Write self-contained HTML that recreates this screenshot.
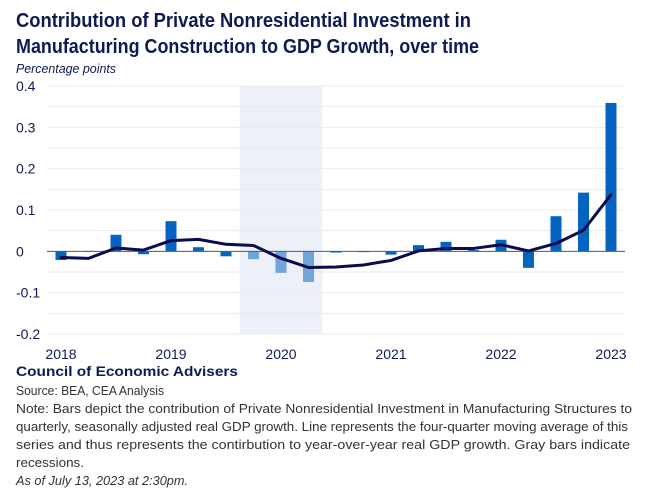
<!DOCTYPE html>
<html><head><meta charset="utf-8"><style>
body{margin:0;background:#fff;}
svg{display:block;font-family:"Liberation Sans",sans-serif;}
</style></head><body>
<svg id="chart" width="653" height="489" viewBox="0 0 653 489">
<text x="16" y="27" font-size="20" font-weight="bold" fill="#0f1a55" textLength="455" lengthAdjust="spacingAndGlyphs">Contribution of Private Nonresidential Investment in</text>
<text x="16" y="53" font-size="20" font-weight="bold" fill="#0f1a55" textLength="463" lengthAdjust="spacingAndGlyphs">Manufacturing Construction to GDP Growth, over time</text>
<text x="16" y="73" font-size="13" font-style="italic" fill="#0f1a55" textLength="100" lengthAdjust="spacingAndGlyphs">Percentage points</text>
<g id="plot"></g>
<text x="16" y="376" font-size="14" font-weight="bold" fill="#0f1a55" textLength="222" lengthAdjust="spacingAndGlyphs">Council of Economic Advisers</text>
<g font-size="13" fill="#333">
<text x="16" y="395" textLength="148" lengthAdjust="spacingAndGlyphs">Source: BEA, CEA Analysis</text>
<text x="16" y="413" textLength="616" lengthAdjust="spacingAndGlyphs">Note: Bars depict the contribution of Private Nonresidential Investment in Manufacturing Structures to</text>
<text x="16" y="431" textLength="612" lengthAdjust="spacingAndGlyphs">quarterly, seasonally adjusted real GDP growth. Line represents the four-quarter moving average of this</text>
<text x="16" y="449" textLength="614" lengthAdjust="spacingAndGlyphs">series and thus represents the contirbution to year-over-year real GDP growth. Gray bars indicate</text>
<text x="16" y="467" textLength="68" lengthAdjust="spacingAndGlyphs">recessions.</text>
<text x="16" y="485" font-style="italic" textLength="172" lengthAdjust="spacingAndGlyphs">As of July 13, 2023 at 2:30pm.</text>
</g>
</svg>
<script>
const quarters=["2018Q1","2018Q2","2018Q3","2018Q4","2019Q1","2019Q2","2019Q3","2019Q4","2020Q1","2020Q2","2020Q3","2020Q4","2021Q1","2021Q2","2021Q3","2021Q4","2022Q1","2022Q2","2022Q3","2022Q4","2023Q1"];
const barValues=[-0.021,0.001,0.040,-0.007,0.073,0.010,-0.012,-0.019,-0.052,-0.074,-0.003,0.0,-0.008,0.015,0.023,0.003,0.028,-0.040,0.085,0.142,0.359];
const lineValues=[-0.015,-0.017,0.008,0.003,0.026,0.029,0.017,0.014,-0.017,-0.039,-0.038,-0.033,-0.022,0.001,0.007,0.007,0.016,0.001,0.019,0.051,0.137];
const recessionQuarters=["2019Q4","2020Q1","2020Q2"];
const yTicks=[0.4,0.3,0.2,0.1,0,-0.1,-0.2];
const yTickLabels=["0.4","0.3","0.2","0.1","0","-0.1","-0.2"];
const xLabels=["2018","2019","2020","2021","2022","2023"];
const xLabelQuarters=["2018Q1","2019Q1","2020Q1","2021Q1","2022Q1","2023Q1"];

const NS="http://www.w3.org/2000/svg";
const g=document.getElementById('plot');
const L=47,R=625,T=86,B=334,yMin=-0.2,yMax=0.4;
const x0=61,step=27.5;
const xScale=i=>x0+i*step;
const yScale=v=>B-(v-yMin)/(yMax-yMin)*(B-T);
function mk(tag,attrs){const e=document.createElementNS(NS,tag);for(const k in attrs)e.setAttribute(k,attrs[k]);g.appendChild(e);return e;}

// recession shading
const ri=recessionQuarters.map(q=>quarters.indexOf(q));
const rs=mk('rect',{x:xScale(Math.min(...ri))-step/2,y:T,width:(Math.max(...ri)-Math.min(...ri)+1)*step,height:B-T,fill:'#edf0f6'});



// gridlines every 0.05
for(let v=yMin;v<=yMax+1e-9;v+=0.05){
  const gl=mk('line',{x1:L,x2:R,y1:yScale(v),y2:yScale(v),stroke:'#e8eaf3','stroke-width':1});
  
  
}
yTicks.forEach((v,i)=>{
  const t=mk('text',{x:16,y:yScale(v)+5,'font-size':14,fill:'#0f1a55'});
  t.textContent=yTickLabels[i];
  
  
});
xLabels.forEach((lab,i)=>{
  const t=mk('text',{x:xScale(quarters.indexOf(xLabelQuarters[i])),y:359,'font-size':14,fill:'#0f1a55','text-anchor':'middle'});
  t.textContent=lab;
  
  
});
// bars
barValues.forEach((v,i)=>{
  const rec=recessionQuarters.includes(quarters[i]);
  const y1=yScale(Math.max(v,0)),y2=yScale(Math.min(v,0));
  const b=mk('rect',{x:xScale(i)-5.5,y:y1,width:11,height:Math.max(y2-y1,0.8),fill:rec?'#6fa5d8':'#0563c1'});
  
  
});
// zero axis
const ax=mk('line',{x1:L,x2:R,y1:yScale(0),y2:yScale(0),stroke:'#55577a','stroke-width':1});


// line
const pts=lineValues.map((v,i)=>xScale(i)+','+yScale(v)).join(' ');
const pl=mk('polyline',{points:pts,fill:'none',stroke:'#0b0c4f','stroke-width':3,'stroke-linejoin':'round','stroke-linecap':'round'});


</script>
</body></html>
